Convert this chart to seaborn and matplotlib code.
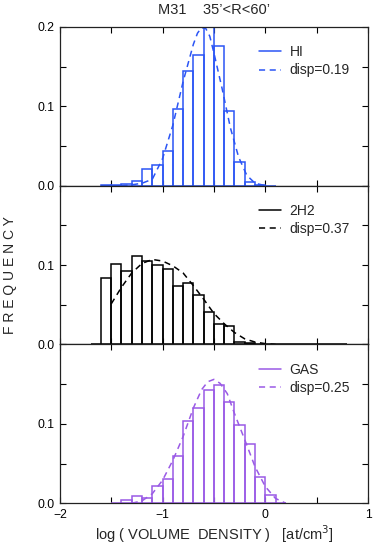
import numpy as np
import pandas as pd
import seaborn as sns
import matplotlib.pyplot as plt
from matplotlib.lines import Line2D

# histogram frequencies, bin width 0.1, first bin left edge given
BIN_W = 0.1
hi_start = -1.6
hi_freq = [0.0005, 0.001, 0.002, 0.006, 0.021, 0.026, 0.043, 0.097, 0.144,
           0.165, 0.200, 0.176, 0.094, 0.030, 0.004, 0.001, 0.0]
h2_start = -1.7
h2_freq = [0.0, 0.084, 0.101, 0.092, 0.111, 0.105, 0.100, 0.095, 0.074, 0.077,
           0.062, 0.041, 0.026, 0.023, 0.003, 0.002, 0.001, 0.0, 0.0, 0.0,
           0.0, 0.0, 0.0, 0.0, 0.0]
gas_start = -1.5
gas_freq = [0.0, 0.004, 0.009, 0.007, 0.022, 0.031, 0.060, 0.104, 0.120,
            0.142, 0.149, 0.128, 0.099, 0.074, 0.033, 0.011, 0.0]

# dashed fitted curves
hi_fit_x = [-1.40, -1.30, -1.20, -1.10, -1.00, -0.90, -0.80, -0.70, -0.66,
            -0.62, -0.58, -0.54, -0.50, -0.42, -0.34, -0.26, -0.18, -0.10, 0.00]
hi_fit_y = [0.000, 0.001, 0.003, 0.008, 0.034, 0.076, 0.131, 0.178, 0.192,
            0.199, 0.198, 0.188, 0.167, 0.122, 0.073, 0.036, 0.013, 0.003, 0.000]
h2_fit_x = [-1.50, -1.40, -1.30, -1.20, -1.10, -1.00, -0.90, -0.80, -0.70,
            -0.60, -0.50, -0.40, -0.30, -0.20, -0.10, 0.00, 0.10]
h2_fit_y = [0.051, 0.072, 0.090, 0.102, 0.107, 0.105, 0.099, 0.090, 0.074,
            0.057, 0.039, 0.026, 0.015, 0.007, 0.003, 0.001, 0.000]
gas_fit_x = [-1.30, -1.20, -1.10, -1.00, -0.90, -0.80, -0.70, -0.62, -0.56,
             -0.50, -0.44, -0.37, -0.30, -0.20, -0.10, 0.00, 0.10, 0.20]
gas_fit_y = [0.000, 0.003, 0.012, 0.029, 0.054, 0.084, 0.120, 0.143, 0.153,
             0.156, 0.151, 0.138, 0.113, 0.080, 0.046, 0.021, 0.006, 0.000]

panels = [
    ("HI", "disp=0.19", "#2b55f5", hi_start, hi_freq, hi_fit_x, hi_fit_y),
    ("2H2", "disp=0.37", "black", h2_start, h2_freq, h2_fit_x, h2_fit_y),
    ("GAS", "disp=0.25", "#9a5ae6", gas_start, gas_freq, gas_fit_x, gas_fit_y),
]

sns.set_style("ticks")
plt.rcParams["font.family"] = ["Liberation Sans", "DejaVu Sans"]
plt.rcParams["font.size"] = 9

fig, axes = plt.subplots(3, 1, figsize=(3.74, 5.47), dpi=100, sharex=True)
plt.subplots_adjust(left=0.160, right=0.984, top=0.951, bottom=0.080, hspace=0)

for i, (ax, (name, disp, col, start, freq, fx, fy)) in enumerate(zip(axes, panels)):
    n = len(freq)
    lo = round(start, 2)
    hi = round(start + BIN_W * n, 2)
    centers = [round(start + BIN_W * (k + 0.5), 3) for k in range(n)]
    df = pd.DataFrame({"x": centers, "w": freq})
    sns.histplot(data=df, x="x", weights="w", binwidth=BIN_W, binrange=(lo, hi),
                 fill=False, color=col, linewidth=1.1, ax=ax)
    fit = pd.DataFrame({"x": fx, "y": fy})
    sns.lineplot(data=fit, x="x", y="y", color=col, linewidth=1.1,
                 linestyle=(0, (4, 3)), ax=ax)
    ax.set_xlim(-2, 1)
    ax.set_ylim(0, 0.2)
    ax.set_xlabel("")
    ax.set_ylabel("")
    ax.set_xticks(np.arange(-2, 1.01, 0.5))
    ax.set_xticklabels(["−2", "", "−1", "", "0", "", "1"])
    ax.set_yticks([0, 0.05, 0.1, 0.15, 0.2])
    ax.set_yticklabels(["0.0", "", "0.1", "", "0.2" if i == 0 else ""])
    ax.tick_params(direction="in", length=4, width=0.8, top=True, right=True,
                   labelsize=8.7, pad=4, colors="black")
    for sp in ax.spines.values():
        sp.set_linewidth(0.9)
        sp.set_color("#222222")
    handles = [Line2D([], [], color=col, lw=1.1),
               Line2D([], [], color=col, lw=1.1, linestyle=(0, (4, 3)))]
    ax.legend(handles, [name, disp], loc="upper left", bbox_to_anchor=(0.615, 0.945),
              frameon=False, fontsize=10, handlelength=1.6, handletextpad=0.6,
              labelspacing=0.3, borderpad=0.2)

axes[0].set_title("M31    35\u2019<R<60\u2019", fontsize=10.5, pad=9)
axes[-1].set_xlabel("log ( VOLUME  DENSITY )   [at/cm$^3$]", fontsize=10.5, labelpad=2)
fig.text(0.028, 0.497, "F R E Q U E N C Y", rotation=90, ha="center", va="center",
         fontsize=10)

fig.savefig("out.png", dpi=100)
